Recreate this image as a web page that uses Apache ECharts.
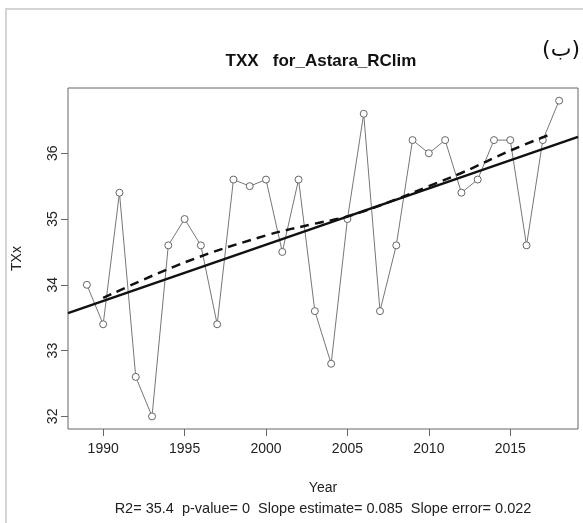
<!DOCTYPE html>
<html>
<head>
<meta charset="utf-8">
<script src="https://cdn.jsdelivr.net/npm/echarts@6/dist/echarts.min.js"></script>
<style>
html, body { margin: 0; padding: 0; background: #fff; }
#main { width: 583px; height: 523px; }
</style>
</head>
<body>
<div id="main"></div>
<script>
// 数据
var years = [1989, 1990, 1991, 1992, 1993, 1994, 1995, 1996, 1997, 1998, 1999, 2000, 2001, 2002, 2003,
             2004, 2005, 2006, 2007, 2008, 2009, 2010, 2011, 2012, 2013, 2014, 2015, 2016, 2017, 2018];
var txx = [34.0, 33.4, 35.4, 32.6, 32.0, 34.6, 35.0, 34.6, 33.4, 35.6, 35.5, 35.6, 34.5, 35.6, 33.6,
           32.8, 35.0, 36.6, 33.6, 34.6, 36.2, 36.0, 36.2, 35.4, 35.6, 36.2, 36.2, 34.6, 36.2, 36.8];
// 回归线两端
var trendX = [1987.84, 2019.16];
var trendY = [33.57, 36.25];
// 平滑曲线
var smoothX = [1990, 1995, 2000, 2003, 2005, 2008, 2010, 2012, 2015, 2017.6];
var smoothY = [33.80, 34.34, 34.75, 34.93, 35.04, 35.30, 35.50, 35.70, 36.04, 36.30];
var xTicks = [1990, 1995, 2000, 2005, 2010, 2015];
var yTicks = [32, 33, 34, 35, 36];

function pairs(xs, ys) {
    return xs.map(function (x, i) { return [x, ys[i]]; });
}

var chart = echarts.init(document.getElementById('main'));
var font = 'Liberation Sans, Arial, sans-serif';
option = {
    animation: false,
    backgroundColor: '#fff',
    title: {
        text: 'TXX   for_Astara_RClim',
        left: 316,
        top: 48,
        textAlign: 'center',
        textStyle: { fontFamily: font, fontSize: 17, fontWeight: 'bold', color: '#111' }
    },
    grid: {
        left: 68, top: 88, right: 5, bottom: 94,
        show: true, borderColor: '#666', borderWidth: 1, backgroundColor: 'transparent'
    },
    xAxis: {
        type: 'value',
        min: 1987.84,
        max: 2019.16,
        name: 'Year',
        nameLocation: 'middle',
        nameGap: 52,
        nameTextStyle: { fontFamily: font, fontSize: 14, color: '#222' },
        axisLine: { show: false },
        splitLine: { show: false },
        axisTick: { show: true, length: 7, lineStyle: { color: '#666' }, customValues: xTicks },
        axisLabel: {
            fontFamily: font, fontSize: 14, color: '#222', margin: 13, customValues: xTicks,
            formatter: function (v) { return String(v); }
        }
    },
    yAxis: {
        type: 'value',
        min: 31.808,
        max: 36.992,
        name: 'TXx',
        nameLocation: 'middle',
        nameGap: 44,
        nameTextStyle: { fontFamily: font, fontSize: 14, color: '#222' },
        axisLine: { show: false },
        splitLine: { show: false },
        axisTick: { show: true, length: 7, lineStyle: { color: '#666' }, customValues: yTicks },
        axisLabel: { fontFamily: font, fontSize: 14, color: '#222', rotate: 90, margin: 8, customValues: yTicks }
    },
    graphic: [
        {
            type: 'rect',
            shape: { x: 6, y: 9, width: 600, height: 540 },
            style: { fill: 'none', stroke: '#d4d4d4', lineWidth: 2 },
            silent: true
        },
        {
            type: 'text',
            right: 3,
            top: 39,
            style: { text: '(ب)', font: '22px "DejaVu Sans", "Noto Sans", sans-serif', fill: '#111' }
        },
        {
            type: 'text',
            x: 323,
            y: 509,
            style: {
                text: 'R2= 35.4  p-value= 0  Slope estimate= 0.085  Slope error= 0.022',
                font: '14.5px Liberation Sans, Arial, sans-serif',
                fill: '#222',
                align: 'center',
                verticalAlign: 'middle'
            }
        }
    ],
    series: [
        {
            name: 'TXx',
            type: 'line',
            data: pairs(years, txx),
            symbol: 'circle',
            symbolSize: 7,
            itemStyle: { color: '#fff', borderColor: '#666', borderWidth: 1 },
            lineStyle: { color: '#777', width: 1 },
            z: 2
        },
        {
            name: 'trend',
            type: 'line',
            data: pairs(trendX, trendY),
            symbol: 'none',
            lineStyle: { color: '#111', width: 2.5 },
            z: 3
        },
        {
            name: 'smooth',
            type: 'line',
            data: pairs(smoothX, smoothY),
            smooth: 0.4,
            symbol: 'none',
            lineStyle: { color: '#111', width: 2.5, type: [9, 6] },
            z: 3
        }
    ]
};
chart.setOption(option);
</script>
</body>
</html>
